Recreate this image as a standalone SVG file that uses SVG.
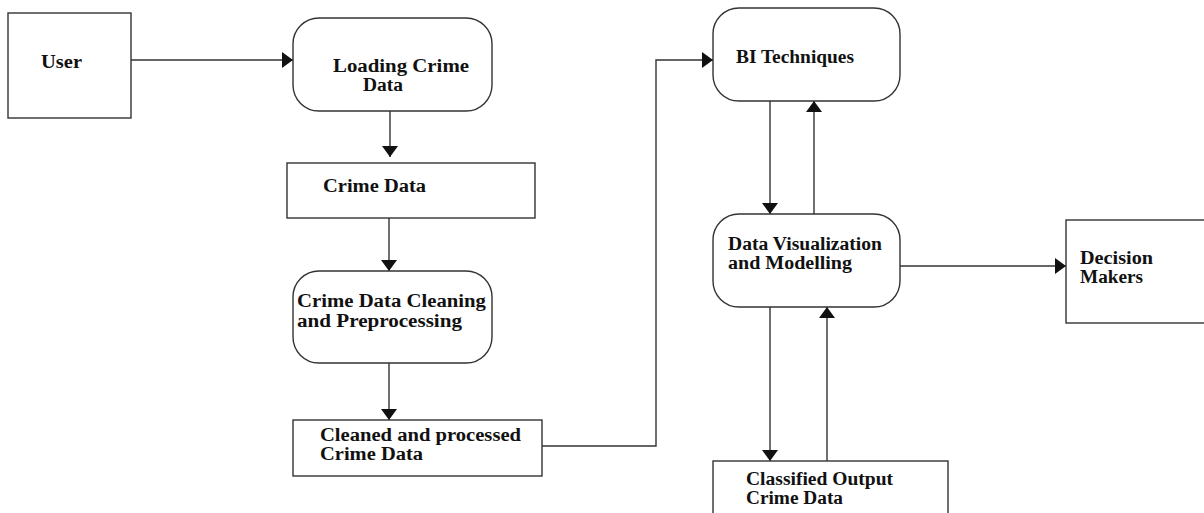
<svg xmlns="http://www.w3.org/2000/svg" width="1204" height="513" viewBox="0 0 1204 513">
  <style>
    .box { fill: #ffffff; stroke: #333333; stroke-width: 1.4; }
    .lbl { font-family: "Liberation Serif", "Times New Roman", serif; font-weight: bold; font-size: 18.5px; fill: #111111; }
    .wire { fill: none; stroke: #333333; stroke-width: 1.4; }
  </style>
  <defs>
    <marker id="arrow" viewBox="0 0 11 16" refX="11" refY="8" markerWidth="11" markerHeight="16" markerUnits="userSpaceOnUse" orient="auto">
      <path d="M0,0 L11,8 L0,16 Z" fill="#111111"/>
    </marker>
  </defs>
  <rect width="1204" height="513" fill="#ffffff"/>

  <g id="connectors">
    <line class="wire" x1="131" y1="60" x2="293" y2="60" marker-end="url(#arrow)"/>
    <line class="wire" x1="390" y1="111" x2="390" y2="157" marker-end="url(#arrow)"/>
    <line class="wire" x1="389" y1="218" x2="389" y2="271" marker-end="url(#arrow)"/>
    <line class="wire" x1="389" y1="363" x2="389" y2="420" marker-end="url(#arrow)"/>
    <polyline class="wire" points="542,446 656,446 656,60 713,60" marker-end="url(#arrow)"/>
    <line class="wire" x1="770" y1="101" x2="770" y2="214" marker-end="url(#arrow)"/>
    <line class="wire" x1="814" y1="214" x2="814" y2="101" marker-end="url(#arrow)"/>
    <line class="wire" x1="900" y1="266" x2="1066" y2="266" marker-end="url(#arrow)"/>
    <line class="wire" x1="770" y1="307" x2="770" y2="461" marker-end="url(#arrow)"/>
    <line class="wire" x1="827" y1="461" x2="827" y2="307" marker-end="url(#arrow)"/>
  </g>

  <g id="user">
    <rect class="box" x="8" y="13" width="123" height="105"/>
    <text class="lbl" x="41" y="68" textLength="41" lengthAdjust="spacingAndGlyphs">User</text>
  </g>

  <g id="loading-crime-data">
    <rect class="box" x="293" y="18" width="199" height="93" rx="26" ry="26"/>
    <text class="lbl" x="333" y="72" textLength="136" lengthAdjust="spacingAndGlyphs">Loading Crime</text>
    <text class="lbl" x="363" y="91" textLength="40" lengthAdjust="spacingAndGlyphs">Data</text>
  </g>

  <g id="crime-data">
    <rect class="box" x="287" y="163" width="248" height="55"/>
    <text class="lbl" x="323" y="192" textLength="103" lengthAdjust="spacingAndGlyphs">Crime Data</text>
  </g>

  <g id="cleaning">
    <rect class="box" x="293" y="271" width="199" height="92" rx="26" ry="26"/>
    <text class="lbl" x="297" y="307" textLength="189" lengthAdjust="spacingAndGlyphs">Crime Data Cleaning</text>
    <text class="lbl" x="297" y="327" textLength="165" lengthAdjust="spacingAndGlyphs">and Preprocessing</text>
  </g>

  <g id="cleaned-data">
    <rect class="box" x="293" y="420" width="249" height="56"/>
    <text class="lbl" x="320" y="441" textLength="201" lengthAdjust="spacingAndGlyphs">Cleaned and processed</text>
    <text class="lbl" x="320" y="460" textLength="103" lengthAdjust="spacingAndGlyphs">Crime Data</text>
  </g>

  <g id="bi-techniques">
    <rect class="box" x="713" y="8" width="187" height="93" rx="26" ry="26"/>
    <text class="lbl" x="736" y="63" textLength="118" lengthAdjust="spacingAndGlyphs">BI Techniques</text>
  </g>

  <g id="visualization">
    <rect class="box" x="713" y="214" width="187" height="93" rx="26" ry="26"/>
    <text class="lbl" x="728" y="250" textLength="154" lengthAdjust="spacingAndGlyphs">Data Visualization</text>
    <text class="lbl" x="728" y="269" textLength="124" lengthAdjust="spacingAndGlyphs">and Modelling</text>
  </g>

  <g id="decision-makers">
    <rect class="box" x="1066" y="220" width="140" height="103"/>
    <text class="lbl" x="1080" y="264" textLength="73" lengthAdjust="spacingAndGlyphs">Decision</text>
    <text class="lbl" x="1080" y="283" textLength="63" lengthAdjust="spacingAndGlyphs">Makers</text>
  </g>

  <g id="classified-output">
    <rect class="box" x="713" y="461" width="235" height="60"/>
    <text class="lbl" x="746" y="485" textLength="147" lengthAdjust="spacingAndGlyphs">Classified Output</text>
    <text class="lbl" x="746" y="504" textLength="97" lengthAdjust="spacingAndGlyphs">Crime Data</text>
  </g>
</svg>
